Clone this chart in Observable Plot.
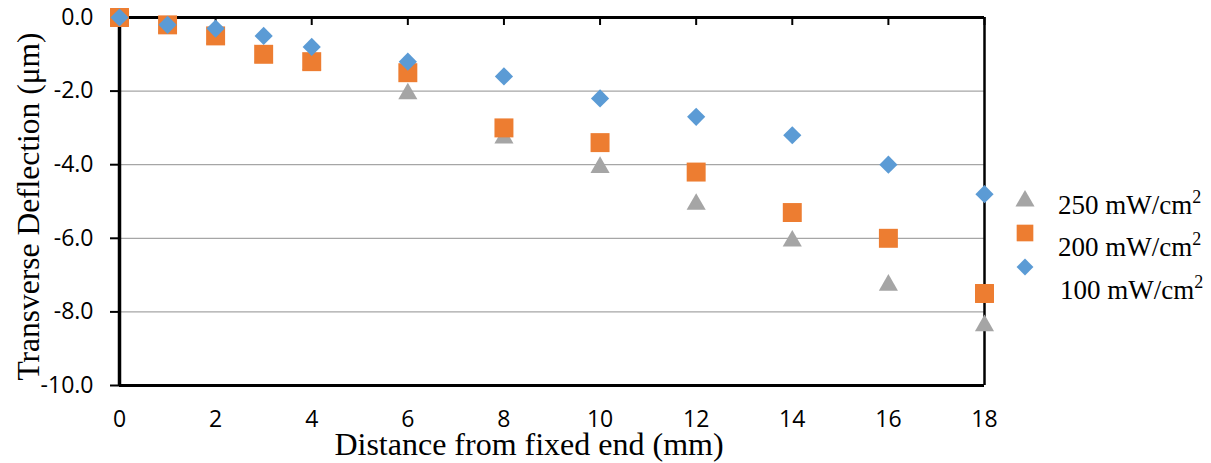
<!DOCTYPE html>
<html>
<head>
<meta charset="utf-8">
<script src="https://cdn.jsdelivr.net/npm/d3@7"></script>
<script src="https://cdn.jsdelivr.net/npm/@observablehq/plot@0.6"></script>
<style>
  html, body { margin: 0; padding: 0; background: #fff; }
  #wrap { position: relative; width: 1211px; height: 463px; }
  #legend { position: absolute; left: 0; top: 0; pointer-events: none; }
  #wrap svg g[aria-label="y-axis tick label"] text,
  #wrap svg g[aria-label="x-axis tick label"] text {
    font-family: "Open Sans", sans-serif;
    font-size: 23px;
  }
</style>
</head>
<body>
<div id="wrap"></div>
<script>
// ---- data ----
const distance = [0, 1, 2, 3, 4, 6, 8, 10, 12, 14, 16, 18];
const defl250 = [0, -0.2, -0.5, -1.0, -1.2, -2.0, -3.2, -4.0, -5.0, -6.0, -7.2, -8.3];
const defl200 = [0, -0.2, -0.5, -1.0, -1.2, -1.5, -3.0, -3.4, -4.2, -5.3, -6.0, -7.5];
const defl100 = [0, -0.2, -0.3, -0.5, -0.8, -1.2, -1.6, -2.2, -2.7, -3.2, -4.0, -4.8];
const seriesNames = ["250 mW/cm", "200 mW/cm", "100 mW/cm"];
const xTicks = [0, 2, 4, 6, 8, 10, 12, 14, 16, 18];
const yTicks = [0, -2, -4, -6, -8, -10];
const gridValues = [-2, -4, -6, -8];
const xLabel = "Distance from fixed end (mm)";
const yLabel = "Transverse Deflection (μm)";

const colors = {gray: "#A5A5A5", orange: "#ED7D31", blue: "#5B9BD5"};

const pts = (ys) => distance.map((d, i) => ({x: d, y: ys[i]}));
const p250 = pts(defl250), p200 = pts(defl200), p100 = pts(defl100);

const tickFont = "Open Sans, sans-serif";
const serif = "Liberation Serif, Times New Roman, serif";

const chart = Plot.plot({
  width: 1211,
  height: 463,
  marginLeft: 119,
  marginRight: 227,
  marginTop: 17,
  marginBottom: 78,
  x: {domain: [0, 18]},
  y: {domain: [-10, 0]},
  style: {background: "white", overflow: "visible", fontFamily: tickFont, fontSize: "23px", color: "black"},
  marks: [
    Plot.ruleY(gridValues, {stroke: "#a6a6a6", strokeWidth: 1.3}),
    // frame lines
    Plot.ruleY([0], {stroke: "black", strokeWidth: 3}),
    Plot.ruleY([-10], {stroke: "black", strokeWidth: 3}),
    Plot.ruleX([18], {stroke: "black", strokeWidth: 2.5}),
    Plot.ruleX([0], {stroke: "black", strokeWidth: 3.5}),
    // top tick marks pointing down
    Plot.tickX(xTicks, {x: d => d, stroke: "black", strokeWidth: 2, insetBottom: 360}),
    Plot.axisY({
      ticks: yTicks, tickSize: 9, tickPadding: 17, strokeWidth: 2,
      tickFormat: d => d.toFixed(1), label: null,
      fontSize: 23, fontFamily: tickFont, fill: "black"
    }),
    Plot.axisX({
      ticks: xTicks, tickSize: 0, tickPadding: 25, label: null,
      fontSize: 23, fontFamily: tickFont, fill: "black"
    }),
    Plot.text([yLabel], {
      frameAnchor: "left", rotate: -90, dx: -91, dy: 5,
      fontSize: 31.5, fontFamily: serif, fill: "black", textAnchor: "middle", lineAnchor: "middle"
    }),
    Plot.text([xLabel], {
      frameAnchor: "bottom", dx: -23, dy: 59,
      fontSize: 32, fontFamily: serif, fill: "black", textAnchor: "middle", lineAnchor: "middle"
    }),
    // data
    Plot.dot(p250, {x: "x", y: "y", symbol: "triangle", r: 7.1, fill: colors.gray, dy: 2.7}),
    Plot.dot(p200, {x: "x", y: "y", symbol: "square", r: 10.7, fill: colors.orange}),
    Plot.dot(p100, {x: "x", y: "y", symbol: "diamond2", r: 8.2, fill: colors.blue})
  ]
});

const wrap = document.getElementById("wrap");
wrap.appendChild(chart);

// ---- legend ----
const legendItems = [
  {name: seriesNames[0], color: colors.gray, symbol: d3.symbolTriangle, size: Math.PI * 7.1 * 7.1, sy: 201, ty: 214, tx: 1058},
  {name: seriesNames[1], color: colors.orange, symbol: d3.symbolSquare, size: Math.PI * 9.4 * 9.4, sy: 233, ty: 256, tx: 1058},
  {name: seriesNames[2], color: colors.blue, symbol: d3.symbolDiamond2, size: Math.PI * 7.6 * 7.6, sy: 267, ty: 299, tx: 1060}
];
const svg = d3.select(wrap).append("svg")
  .attr("id", "legend").attr("width", 1211).attr("height", 463);
for (const it of legendItems) {
  svg.append("path")
    .attr("d", d3.symbol(it.symbol, it.size)())
    .attr("transform", `translate(1025,${it.sy})`)
    .attr("fill", it.color);
  const t = svg.append("text")
    .attr("x", it.tx).attr("y", it.ty)
    .attr("font-family", serif).attr("font-size", 27).attr("fill", "black");
  t.append("tspan").text(it.name);
  t.append("tspan").attr("dy", -11).attr("font-size", 18).text("2");
}
</script>
</body>
</html>
